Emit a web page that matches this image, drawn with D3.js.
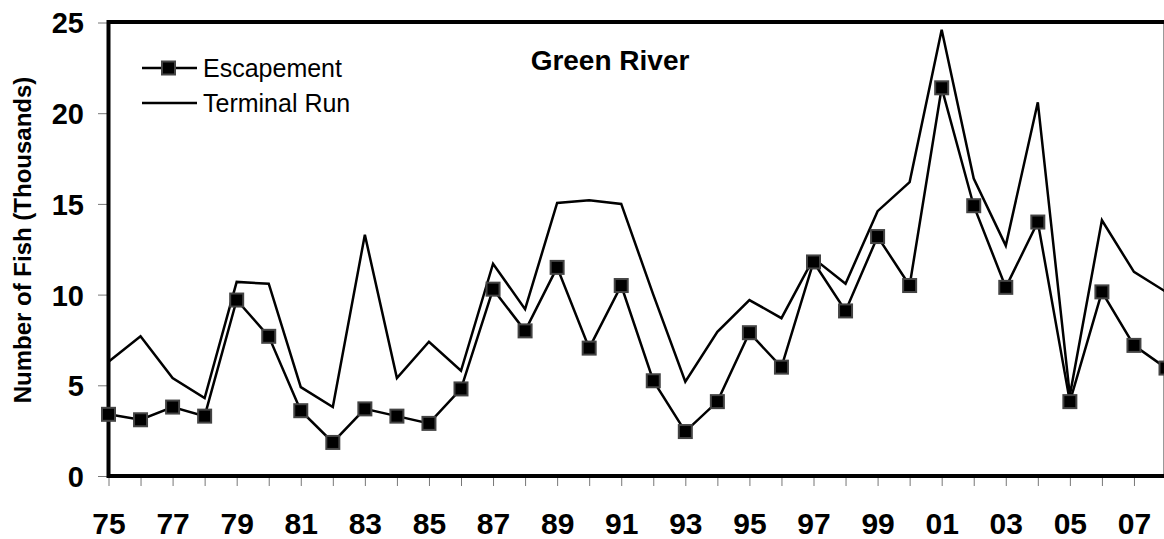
<!DOCTYPE html>
<html>
<head>
<meta charset="utf-8">
<script src="https://cdn.jsdelivr.net/npm/d3@7"></script>
<style>
  body { margin: 0; background: #fff; }
  svg { display: block; font-family: "Liberation Sans", Arial, sans-serif; }
</style>
</head>
<body>
<svg width="1164" height="539"></svg>
<script>
// data
let years = d3.range(1975, 2009);
let escapement = [3.4, 3.1, 3.8, 3.3, 9.7, 7.7, 3.6, 1.85, 3.7, 3.3,
                  2.9, 4.8, 10.3, 8.0, 11.5, 7.05, 10.5, 5.25, 2.45, 4.1,
                  7.9, 6.0, 11.8, 9.1, 13.2, 10.5, 21.4, 14.9, 10.4, 14.0,
                  4.1, 10.15, 7.2, 5.95];
let terminalRun = [6.3, 7.7, 5.4, 4.3, 10.7, 10.6, 4.9, 3.8, 13.3, 5.4,
                   7.4, 5.8, 11.7, 9.2, 15.05, 15.2, 15.0, 10.0, 5.2, 7.95,
                   9.7, 8.7, 12.0, 10.6, 14.6, 16.2, 24.6, 16.4, 12.7, 20.6,
                   4.45, 14.1, 11.25, 10.15];
let yTicks = [0, 5, 10, 15, 20, 25];
let xLabelYears = d3.range(1975, 2009, 2);

let svg = d3.select("svg"),
    margin = {top: 22, left: 108, bottom: 476};

let x = d3.scaleLinear().domain([1975, 2008]).range([108.5, 1166]);
let y = d3.scaleLinear().domain([0, 25]).range([476, 22.5]);

// axes
let yAxis = d3.axisLeft(y).tickValues(yTicks).tickSize(10).tickPadding(14);
let xAxis = d3.axisBottom(x).tickValues(years).tickSize(10)
    .tickFormat(d => xLabelYears.includes(d) ? String(d).slice(2) : "");

let gy = svg.append("g")
    .attr("transform", "translate(" + margin.left + ",0)")
    .call(yAxis);
gy.select(".domain").remove();
gy.selectAll(".tick line").attr("stroke", "#777").attr("stroke-width", 1);
gy.selectAll(".tick text")
    .attr("font-size", 29).attr("font-weight", "bold")
    .attr("font-family", "Liberation Sans, Arial, sans-serif")
    .attr("fill", "#000")
    .attr("dy", "0.36em");

let gx = svg.append("g")
    .attr("transform", "translate(0," + margin.bottom + ")")
    .call(xAxis);
gx.select(".domain").remove();
gx.selectAll(".tick line").attr("stroke", "#777").attr("stroke-width", 1);
gx.selectAll(".tick text")
    .attr("font-size", 30).attr("font-weight", "bold")
    .attr("font-family", "Liberation Sans, Arial, sans-serif")
    .attr("fill", "#000")
    .attr("dy", 0)
    .attr("y", 58);

// plot frame
svg.append("line").attr("x1", 1163.5).attr("x2", 1163.5).attr("y1", 22).attr("y2", 476)
    .attr("stroke", "#999").attr("stroke-width", 1);
svg.append("line").attr("x1", 107).attr("x2", 1164).attr("y1", 22).attr("y2", 22)
    .attr("stroke", "#000").attr("stroke-width", 4);
svg.append("line").attr("x1", 108.5).attr("x2", 108.5).attr("y1", 20).attr("y2", 478)
    .attr("stroke", "#000").attr("stroke-width", 4);
svg.append("line").attr("x1", 107).attr("x2", 1164).attr("y1", 476).attr("y2", 476)
    .attr("stroke", "#000").attr("stroke-width", 4);

// series
let lineT = d3.line().x((d, i) => x(years[i])).y(d => y(d));

svg.append("path")
    .datum(terminalRun)
    .attr("fill", "none")
    .attr("stroke", "#000")
    .attr("stroke-width", 2.5)
    .attr("d", lineT);

svg.append("path")
    .datum(escapement)
    .attr("fill", "none")
    .attr("stroke", "#000")
    .attr("stroke-width", 2.5)
    .attr("d", lineT);

svg.selectAll("rect.esc")
    .data(escapement)
    .enter()
    .append("rect")
    .attr("class", "esc")
    .attr("x", (d, i) => x(years[i]) - 6.5)
    .attr("y", d => y(d) - 6.5)
    .attr("width", 13)
    .attr("height", 13)
    .attr("fill", "#000")
    .attr("stroke", "#444")
    .attr("stroke-width", 2);

// title
svg.append("text")
    .attr("x", 610).attr("y", 70)
    .attr("text-anchor", "middle")
    .attr("font-size", 28).attr("font-weight", "bold")
    .text("Green River");

// legend
let legend = svg.append("g");
legend.append("line").attr("x1", 142).attr("x2", 197).attr("y1", 68).attr("y2", 68)
    .attr("stroke", "#000").attr("stroke-width", 2.5);
legend.append("rect").attr("x", 162).attr("y", 61.5).attr("width", 13).attr("height", 13)
    .attr("fill", "#000").attr("stroke", "#444").attr("stroke-width", 2);
legend.append("text").attr("x", 203).attr("y", 77).attr("font-size", 25).text("Escapement");
legend.append("line").attr("x1", 142).attr("x2", 197).attr("y1", 103).attr("y2", 103)
    .attr("stroke", "#000").attr("stroke-width", 2.5);
legend.append("text").attr("x", 203).attr("y", 112).attr("font-size", 25).text("Terminal Run");

// y axis label
svg.append("text")
    .attr("transform", "rotate(-90)")
    .attr("x", -240).attr("y", 31)
    .attr("text-anchor", "middle")
    .attr("font-size", 24).attr("font-weight", "bold")
    .text("Number of Fish (Thousands)");
</script>
</body>
</html>
